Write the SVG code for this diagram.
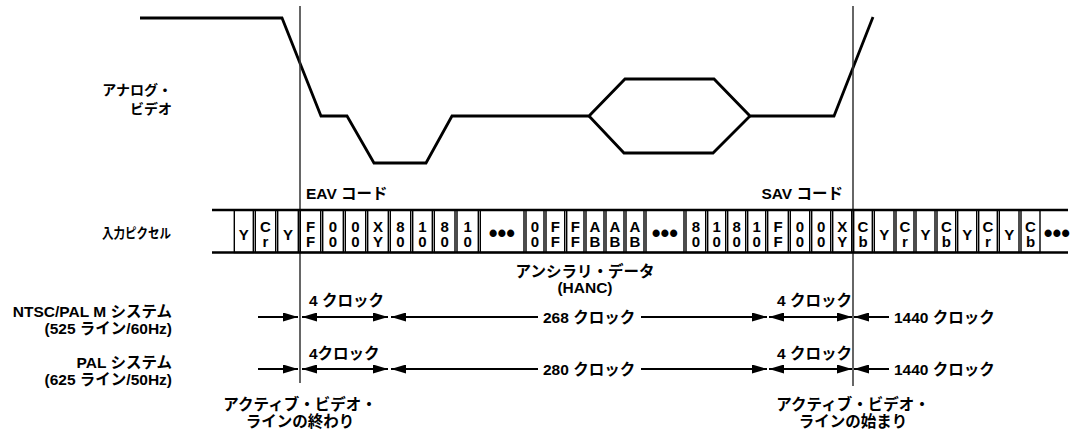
<svg xmlns="http://www.w3.org/2000/svg" width="1076" height="430" viewBox="0 0 1076 430">
<style>
text{font-family:"Liberation Sans","Noto Sans CJK JP",sans-serif;font-weight:bold;fill:#000}
.lbl{font-size:15.5px}
.sm{font-size:14px}
.cell{fill:none;stroke:#000;stroke-width:1.4}
.ct{font-size:15px;text-anchor:middle}
.dots{font-size:25px;text-anchor:middle}
.wave{fill:none;stroke:#000;stroke-width:2.8;stroke-linejoin:miter}
.vline{stroke:#333;stroke-width:1.5}
.arr{stroke:#000;stroke-width:2}
.end{text-anchor:end}
.mid{text-anchor:middle}
</style>
<defs>
<marker id="ah" markerUnits="userSpaceOnUse" markerWidth="15" markerHeight="9" refX="15" refY="4.5" orient="auto-start-reverse">
<path d="M0,0 L15,4.5 L0,9 z" fill="#000"/>
</marker>
</defs>
<g id="waveform">
<polyline class="wave" points="140,18 282,18 321,116 347,116 374,163 426,163 452,116 589,116 625,79 714,79 750,116 834,116 873,17"/>
<polyline class="wave" points="589,116 624,153 713,153 750,116"/>
</g>
<g id="labels-left">
<text class="sm end" x="172" y="95">アナログ・</text>
<text class="sm end" x="172" y="114">ビデオ</text>
<text class="end" style="font-size:13.5px" x="171" y="238" textLength="69" lengthAdjust="spacingAndGlyphs">入力ピクセル</text>
<text class="lbl end" x="172" y="317">NTSC/PAL M システム</text>
<text class="lbl end" x="172" y="334">(525 ライン/60Hz)</text>
<text class="lbl end" x="172" y="368">PAL システム</text>
<text class="lbl end" x="172" y="385">(625 ライン/50Hz)</text>
</g>
<g id="eav-sav">
<line class="vline" x1="300" y1="6" x2="300" y2="383"/>
<line class="vline" x1="853" y1="6" x2="853" y2="386"/>
<text class="lbl" x="306" y="199">EAV コード</text>
<text class="lbl end" x="843" y="199">SAV コード</text>
</g>
<g id="pixel-row">
<line x1="212" y1="210" x2="1068" y2="210" stroke="#000" stroke-width="2.6"/>
<line x1="212" y1="252.5" x2="1068" y2="252.5" stroke="#000" stroke-width="2.6"/>
<rect class="cell" x="234.3" y="210" width="19" height="42.5"/><text class="ct" x="243.8" y="240">Y</text>
<rect class="cell" x="255.3" y="210" width="20.4" height="42.5"/><text class="ct" x="265.5" y="232">C</text><text class="ct" x="265.5" y="247">r</text>
<rect class="cell" x="277.7" y="210" width="20.6" height="42.5"/><text class="ct" x="288" y="240">Y</text>
<rect class="cell" x="300.3" y="210" width="20.4" height="42.5"/><text class="ct" x="310.5" y="232">F</text><text class="ct" x="310.5" y="247">F</text>
<rect class="cell" x="322.7" y="210" width="20.6" height="42.5"/><text class="ct" x="333" y="232">0</text><text class="ct" x="333" y="247">0</text>
<rect class="cell" x="345.3" y="210" width="20.4" height="42.5"/><text class="ct" x="355.5" y="232">0</text><text class="ct" x="355.5" y="247">0</text>
<rect class="cell" x="367.7" y="210" width="20.6" height="42.5"/><text class="ct" x="378" y="232">X</text><text class="ct" x="378" y="247">Y</text>
<rect class="cell" x="390.3" y="210" width="20.4" height="42.5"/><text class="ct" x="400.5" y="232">8</text><text class="ct" x="400.5" y="247">0</text>
<rect class="cell" x="412.7" y="210" width="19.6" height="42.5"/><text class="ct" x="422.5" y="232">1</text><text class="ct" x="422.5" y="247">0</text>
<rect class="cell" x="434.3" y="210" width="20.7" height="42.5"/><text class="ct" x="444.7" y="232">8</text><text class="ct" x="444.7" y="247">0</text>
<rect class="cell" x="457" y="210" width="21.3" height="42.5"/><text class="ct" x="467.7" y="232">1</text><text class="ct" x="467.7" y="247">0</text>
<rect class="cell" x="480.3" y="210" width="43.7" height="42.5"/><text class="dots" x="502" y="242">•••</text>
<rect class="cell" x="526" y="210" width="18" height="42.5"/><text class="ct" x="535" y="232">0</text><text class="ct" x="535" y="247">0</text>
<rect class="cell" x="546" y="210" width="18.7" height="42.5"/><text class="ct" x="555.4" y="232">F</text><text class="ct" x="555.4" y="247">F</text>
<rect class="cell" x="566.7" y="210" width="17.3" height="42.5"/><text class="ct" x="575.4" y="232">F</text><text class="ct" x="575.4" y="247">F</text>
<rect class="cell" x="586" y="210" width="18" height="42.5"/><text class="ct" x="595" y="232">A</text><text class="ct" x="595" y="247">B</text>
<rect class="cell" x="606" y="210" width="18" height="42.5"/><text class="ct" x="615" y="232">A</text><text class="ct" x="615" y="247">B</text>
<rect class="cell" x="626" y="210" width="18" height="42.5"/><text class="ct" x="635" y="232">A</text><text class="ct" x="635" y="247">B</text>
<rect class="cell" x="646" y="210" width="38" height="42.5"/><text class="dots" x="665" y="242">•••</text>
<rect class="cell" x="686" y="210" width="19.7" height="42.5"/><text class="ct" x="695.8" y="232">8</text><text class="ct" x="695.8" y="247">0</text>
<rect class="cell" x="707.7" y="210" width="18" height="42.5"/><text class="ct" x="716.7" y="232">1</text><text class="ct" x="716.7" y="247">0</text>
<rect class="cell" x="727.7" y="210" width="18" height="42.5"/><text class="ct" x="736.7" y="232">8</text><text class="ct" x="736.7" y="247">0</text>
<rect class="cell" x="747.7" y="210" width="18" height="42.5"/><text class="ct" x="756.7" y="232">1</text><text class="ct" x="756.7" y="247">0</text>
<rect class="cell" x="767.7" y="210" width="20.6" height="42.5"/><text class="ct" x="778" y="232">F</text><text class="ct" x="778" y="247">F</text>
<rect class="cell" x="790.3" y="210" width="19.4" height="42.5"/><text class="ct" x="800" y="232">0</text><text class="ct" x="800" y="247">0</text>
<rect class="cell" x="811.7" y="210" width="19" height="42.5"/><text class="ct" x="821.2" y="232">0</text><text class="ct" x="821.2" y="247">0</text>
<rect class="cell" x="832.7" y="210" width="19" height="42.5"/><text class="ct" x="842.2" y="232">X</text><text class="ct" x="842.2" y="247">Y</text>
<rect class="cell" x="853.7" y="210" width="18.6" height="42.5"/><text class="ct" x="863" y="232">C</text><text class="ct" x="863" y="247">b</text>
<rect class="cell" x="874.3" y="210" width="19.7" height="42.5"/><text class="ct" x="884.2" y="240">Y</text>
<rect class="cell" x="896" y="210" width="18" height="42.5"/><text class="ct" x="905" y="232">C</text><text class="ct" x="905" y="247">r</text>
<rect class="cell" x="916" y="210" width="19" height="42.5"/><text class="ct" x="925.5" y="240">Y</text>
<rect class="cell" x="937" y="210" width="18.7" height="42.5"/><text class="ct" x="946.4" y="232">C</text><text class="ct" x="946.4" y="247">b</text>
<rect class="cell" x="957.7" y="210" width="19" height="42.5"/><text class="ct" x="967.2" y="240">Y</text>
<rect class="cell" x="978.7" y="210" width="18.6" height="42.5"/><text class="ct" x="988" y="232">C</text><text class="ct" x="988" y="247">r</text>
<rect class="cell" x="999.3" y="210" width="19.7" height="42.5"/><text class="ct" x="1009.2" y="240">Y</text>
<rect class="cell" x="1021" y="210" width="19" height="42.5"/><text class="ct" x="1030.5" y="232">C</text><text class="ct" x="1030.5" y="247">b</text>
<text class="dots" x="1057" y="242">•••</text>
</g>
<g id="hanc-label">
<text class="lbl mid" x="585" y="277">アンシラリ・データ</text>
<text class="lbl mid" x="585" y="293">(HANC)</text>
</g>
<g id="connectors">
<line class="arr" x1="258" y1="317" x2="298" y2="317" marker-end="url(#ah)"/>
<line class="arr" x1="302" y1="317" x2="388" y2="317" marker-start="url(#ah)" marker-end="url(#ah)"/>
<line class="arr" x1="391" y1="317" x2="538" y2="317" marker-start="url(#ah)"/>
<line class="arr" x1="641" y1="317" x2="767" y2="317" marker-end="url(#ah)"/>
<line class="arr" x1="769" y1="317" x2="852" y2="317" marker-start="url(#ah)" marker-end="url(#ah)"/>
<line class="arr" x1="854" y1="317" x2="889" y2="317" marker-start="url(#ah)"/>
<line class="arr" x1="258" y1="369" x2="298" y2="369" marker-end="url(#ah)"/>
<line class="arr" x1="302" y1="369" x2="388" y2="369" marker-start="url(#ah)" marker-end="url(#ah)"/>
<line class="arr" x1="391" y1="369" x2="538" y2="369" marker-start="url(#ah)"/>
<line class="arr" x1="641" y1="369" x2="767" y2="369" marker-end="url(#ah)"/>
<line class="arr" x1="769" y1="369" x2="852" y2="369" marker-start="url(#ah)" marker-end="url(#ah)"/>
<line class="arr" x1="854" y1="369" x2="889" y2="369" marker-start="url(#ah)"/>
</g>
<g id="clock-labels">
<text class="lbl" x="309" y="306">4 クロック</text>
<text class="lbl" x="543" y="323">268 クロック</text>
<text class="lbl end" x="852" y="306">4 クロック</text>
<text class="lbl" x="894" y="323">1440 クロック</text>
<text class="lbl" x="309" y="359">4クロック</text>
<text class="lbl" x="543" y="375">280 クロック</text>
<text class="lbl end" x="852" y="359">4 クロック</text>
<text class="lbl" x="894" y="375">1440 クロック</text>
</g>
<g id="line-end-labels">
<text class="lbl mid" x="300" y="410">アクティブ・ビデオ・</text>
<text class="lbl mid" x="300" y="427">ラインの終わり</text>
<text class="lbl mid" x="853" y="410">アクティブ・ビデオ・</text>
<text class="lbl mid" x="853" y="427">ラインの始まり</text>
</g>
</svg>
